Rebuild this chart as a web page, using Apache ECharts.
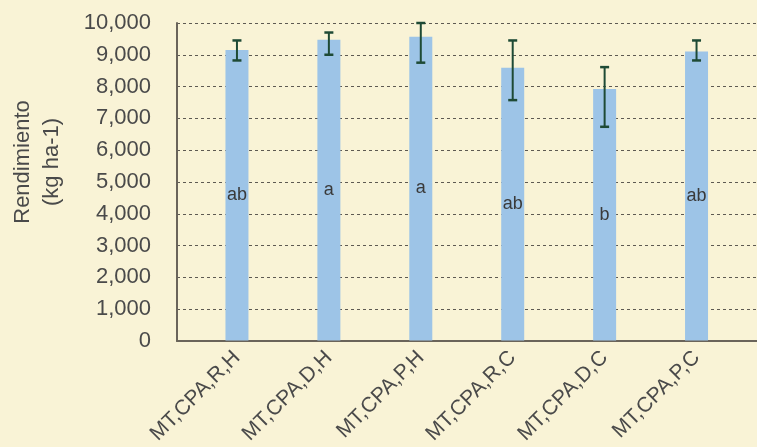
<!DOCTYPE html>
<html>
<head>
<meta charset="utf-8">
<script src="https://cdn.jsdelivr.net/npm/echarts@6/dist/echarts.min.js"></script>
<style>
  html, body { margin: 0; padding: 0; background: #F9F3D6; }
  #chart { width: 757px; height: 447px; }
</style>
</head>
<body>
<div id="chart"></div>
<script>
// Yield per treatment (kg ha-1), with error-bar bounds and significance letters
const categories = ['MT,CPA,R,H', 'MT,CPA,D,H', 'MT,CPA,P,H', 'MT,CPA,R,C', 'MT,CPA,D,C', 'MT,CPA,P,C'];
const yieldValues = [9150, 9470, 9570, 8590, 7920, 9100];
const errorLow = [8820, 9000, 8750, 7570, 6730, 8820];
const errorHigh = [9450, 9700, 10000, 9450, 8610, 9450];
const letters = ['ab', 'a', 'a', 'ab', 'b', 'ab'];
const yTicks = { min: 0, max: 10000, interval: 1000 };

const FONT = 'Liberation Sans, Arial, sans-serif';
const TEXT = '#4A4A4A';

const chart = echarts.init(document.getElementById('chart'), null, { renderer: 'canvas' });

const errorData = categories.map((c, i) => [i, errorLow[i], errorHigh[i]]);

chart.setOption({
  backgroundColor: '#F9F3D6',
  animation: false,
  textStyle: { fontFamily: FONT },
  grid: [
    // frame grid: axis lines, value labels and dotted guides
    { left: 177, right: 0, top: 23, bottom: 106 },
    // bar grid
    { left: 191, right: 14.5, top: 23, bottom: 106 }
  ],
  xAxis: [
    {
      gridIndex: 0, type: 'category', data: [''],
      axisLine: { show: true, lineStyle: { color: '#6A645A', width: 2 } },
      axisTick: { show: false }, axisLabel: { show: false }, splitLine: { show: false }
    },
    {
      gridIndex: 1, type: 'category', data: categories,
      axisLine: { show: false }, axisTick: { show: false },
      axisLabel: { rotate: 45, margin: 14, fontSize: 21, color: TEXT, fontFamily: FONT }
    }
  ],
  yAxis: [
    {
      gridIndex: 0, type: 'value', min: yTicks.min, max: yTicks.max, interval: yTicks.interval,
      axisLine: { show: true, lineStyle: { color: '#6A645A', width: 2 } },
      axisTick: { show: false },
      axisLabel: {
        margin: 26, fontSize: 22, color: TEXT, fontFamily: FONT,
        formatter: v => v.toLocaleString('en-US')
      },
      splitLine: { show: true, lineStyle: { type: [3, 3], color: '#5E5A52', width: 1 } }
    },
    {
      gridIndex: 1, type: 'value', min: yTicks.min, max: yTicks.max, interval: yTicks.interval,
      show: false, splitLine: { show: false }
    }
  ],
  graphic: [{
    type: 'text',
    x: 37, y: 162,
    rotation: Math.PI / 2,
    style: {
      text: 'Rendimiento\n(kg ha-1)',
      fontSize: 22, lineHeight: 29, fontFamily: FONT, fill: TEXT,
      align: 'center', verticalAlign: 'middle'
    }
  }],
  series: [
    {
      type: 'bar', xAxisIndex: 1, yAxisIndex: 1,
      data: yieldValues, barWidth: 23,
      itemStyle: { color: '#9DC4E7' },
      label: {
        show: true, position: 'inside', fontSize: 18, color: '#3A3A3A', fontFamily: FONT,
        formatter: p => letters[p.dataIndex]
      },
      z: 2
    },
    {
      type: 'custom', xAxisIndex: 1, yAxisIndex: 1,
      data: errorData,
      z: 5,
      renderItem: (params, api) => {
        const lo = api.coord([api.value(0), api.value(1)]);
        const hi = api.coord([api.value(0), api.value(2)]);
        const cap = 4.5;
        const color = '#1E4A35';
        return {
          type: 'group',
          children: [
            { type: 'line', shape: { x1: hi[0], y1: hi[1], x2: lo[0], y2: lo[1] }, style: { stroke: color, lineWidth: 2 } },
            { type: 'line', shape: { x1: hi[0] - cap, y1: hi[1], x2: hi[0] + cap, y2: hi[1] }, style: { stroke: color, lineWidth: 2.5 } },
            { type: 'line', shape: { x1: lo[0] - cap, y1: lo[1], x2: lo[0] + cap, y2: lo[1] }, style: { stroke: color, lineWidth: 2.5 } }
          ]
        };
      }
    }
  ]
});
</script>
</body>
</html>
